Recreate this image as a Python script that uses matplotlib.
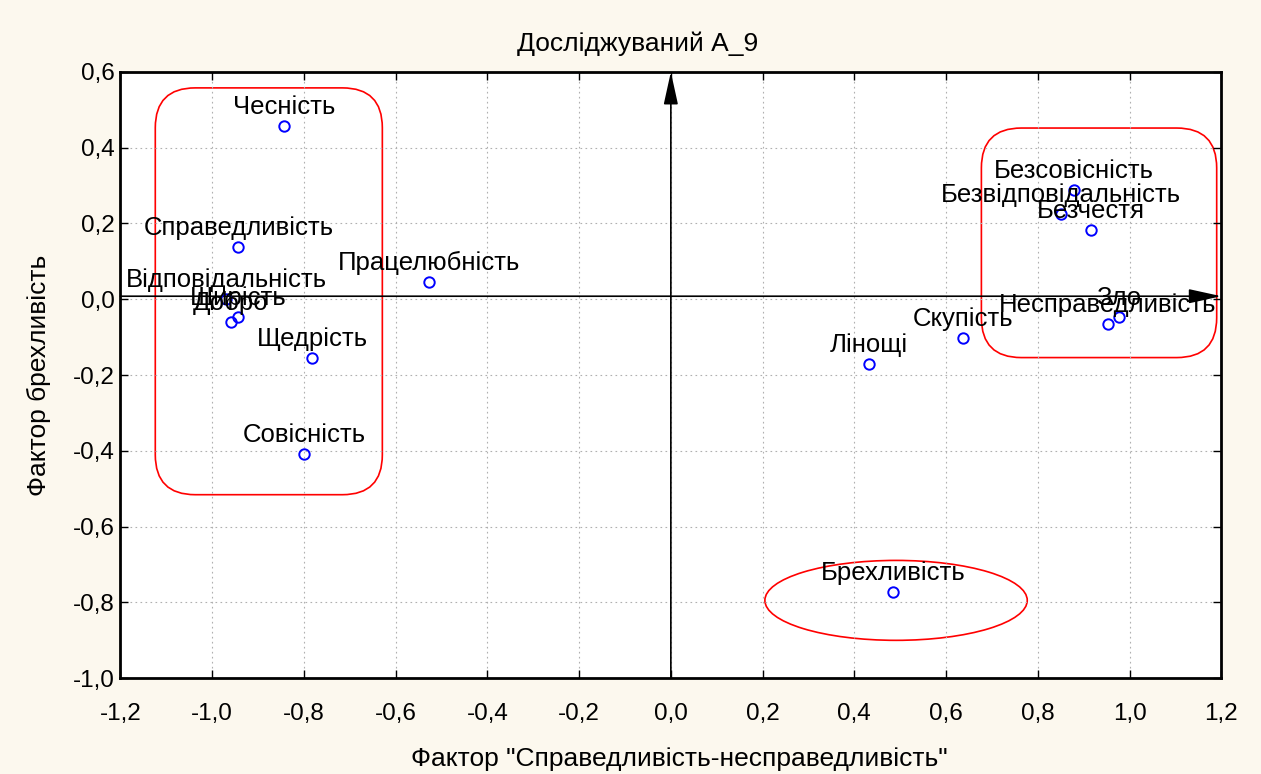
import matplotlib
matplotlib.use('Agg')
import matplotlib.pyplot as plt
from matplotlib.patches import FancyBboxPatch, Ellipse
from matplotlib.ticker import FuncFormatter, MultipleLocator

plt.rcParams['font.family'] = ['Liberation Sans', 'DejaVu Sans']

# factor loadings
labels = ['Чесність', 'Справедливість', 'Відповідальність', 'Щирість', 'Добро',
          'Працелюбність', 'Щедрість', 'Совісність', 'Лінощі', 'Скупість',
          'Брехливість', 'Безсовісність', 'Безвідповідальність', 'Безчестя',
          'Зло', 'Несправедливість']
x_vals = [-0.843, -0.943, -0.969, -0.943, -0.959, -0.528, -0.782, -0.799,
          0.432, 0.638, 0.485, 0.878, 0.851, 0.916, 0.977, 0.953]
y_vals = [0.458, 0.139, 0.000, -0.048, -0.061, 0.046, -0.154, -0.408,
          -0.170, -0.101, -0.772, 0.288, 0.226, 0.183, -0.046, -0.065]

title = 'Досліджуваний А_9'
xlabel = 'Фактор "Справедливість-несправедливість"'
ylabel = 'Фактор брехливість'

bg = '#fcf8ee'
fig = plt.figure(figsize=(12.61, 7.74), dpi=100, facecolor=bg)
ax = fig.add_axes([0.0955, 0.124, 0.873, 0.783])
ax.set_facecolor('white')

ax.set_xlim(-1.2, 1.2)
ax.set_ylim(-1.0, 0.6)
ax.xaxis.set_major_locator(MultipleLocator(0.2))
ax.yaxis.set_major_locator(MultipleLocator(0.2))
fmt = FuncFormatter(lambda v, p: ('%.1f' % v).replace('.', ',').replace('-0,0', '0,0'))
ax.xaxis.set_major_formatter(fmt)
ax.yaxis.set_major_formatter(fmt)
ax.tick_params(direction='in', length=6, width=1, labelsize=17.5,
               top=True, right=True)
ax.tick_params(axis='x', pad=18)
ax.tick_params(axis='y', pad=4)
ax.grid(True, color='#b0b0b0', linestyle=(0, (1.5, 3)), linewidth=0.8)
for s in ax.spines.values():
    s.set_linewidth(2)

# coordinate arrows
arrow = dict(arrowstyle='-|>,head_length=1.0,head_width=0.22', color='black',
             lw=1.2, mutation_scale=20, shrinkA=0, shrinkB=0)
ax.annotate('', xy=(0.0, 0.6), xytext=(0.0, -1.0), arrowprops=arrow,
            annotation_clip=False)
ax.annotate('', xy=(1.2, 0.008), xytext=(-1.2, 0.008), arrowprops=arrow,
            annotation_clip=False)

# points
ax.plot(x_vals, y_vals, 'o', mfc='none', mec='blue', ms=7.5, mew=1.4, zorder=5)
for lab, xv, yv in zip(labels, x_vals, y_vals):
    ax.annotate(lab, (xv, yv), xytext=(0, 7), textcoords='offset pixels',
                ha='center', va='bottom', fontsize=18.5, zorder=6)

# red grouping outlines
asp = 458 / 379
left_box = FancyBboxPatch((-1.124, -0.516), 0.495, 1.074,
                          boxstyle='round,pad=0,rounding_size=0.087',
                          mutation_aspect=asp, fill=False, ec='red', lw=1.2)
right_box = FancyBboxPatch((0.677, -0.154), 0.513, 0.606,
                           boxstyle='round,pad=0,rounding_size=0.087',
                           mutation_aspect=asp, fill=False, ec='red', lw=1.2)
ax.add_patch(left_box)
ax.add_patch(right_box)
ax.add_patch(Ellipse((0.491, -0.795), 0.572, 0.211, fill=False, ec='red', lw=1.2))

ax.set_title(title, fontsize=19, pad=15, x=0.47)
ax.set_xlabel(xlabel, fontsize=19, labelpad=16, x=0.508)
ax.set_ylabel(ylabel, fontsize=19, labelpad=16)

fig.savefig('out.png', dpi=100, facecolor=bg)
